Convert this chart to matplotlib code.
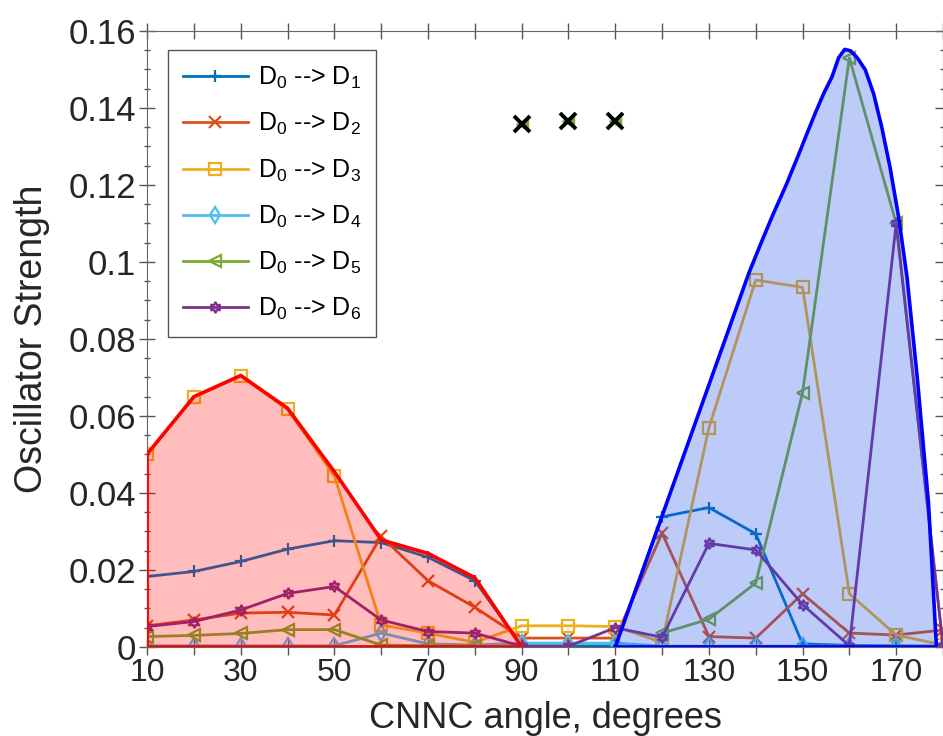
import numpy as np
import matplotlib.pyplot as plt
from matplotlib.ticker import MultipleLocator, FuncFormatter

plt.rcParams['font.family'] = ['Liberation Sans', 'DejaVu Sans']
plt.rcParams['mathtext.fontset'] = 'custom'
plt.rcParams['mathtext.rm'] = 'Liberation Sans'
plt.rcParams['mathtext.it'] = 'Liberation Sans'

# CNNC angle grid
ang = [10, 20, 30, 40, 50, 60, 70, 80, 90, 100, 110, 120, 130, 140, 150, 160, 170, 180]

d1 = [0.0183, 0.0196, 0.0222, 0.0254, 0.0276, 0.0271, 0.0233, 0.0172, 0.0003, 0.0003, 0.0003,
      0.0338, 0.0362, 0.0294, 0.0008, 0.0004, 0.0003, 0.0002]
d2 = [0.0055, 0.0070, 0.0088, 0.0090, 0.0083, 0.0287, 0.0172, 0.0103, 0.0023, 0.0023, 0.0023,
      0.0295, 0.0027, 0.0023, 0.0138, 0.0036, 0.0031, 0.0044]
d3 = [0.0500, 0.0650, 0.0704, 0.0617, 0.0444, 0.0057, 0.0036, 0.0012, 0.0055, 0.0055, 0.0053,
      0.0012, 0.0569, 0.0953, 0.0934, 0.0138, 0.0031, 0.0005]
d4 = [0.0003, 0.0003, 0.0003, 0.0003, 0.0003, 0.0036, 0.0008, 0.0005, 0.0010, 0.0010, 0.0010,
      0.0002, 0.0002, 0.0002, 0.0002, 0.0002, 0.0002, 0.0002]
d5 = [0.0027, 0.0030, 0.0035, 0.0045, 0.0045, 0.0005, 0.0003, 0.0003, np.nan, np.nan, np.nan,
      0.0036, 0.0072, 0.0166, 0.0660, 0.1530, 0.1100, 0.0003]
d6 = [0.0053, 0.0066, 0.0096, 0.0139, 0.0157, 0.0070, 0.0040, 0.0036, 0.0002, 0.0002, 0.0050,
      0.0025, 0.0269, 0.0252, 0.0110, 0.0003, 0.1100, 0.0003]

# stray points near the top (90-110 deg)
top_ang = [90, 100, 110]
top_val = [0.1358, 0.1366, 0.1366]

# envelope of the planar region (red)
red_ang = [10, 10, 20, 30, 40, 50, 60, 70, 80, 90, 10]
red_val = [0, 0.0501, 0.0650, 0.0705, 0.0620, 0.0455, 0.0278, 0.0243, 0.0180, 0, 0]

# envelope of the other region (blue)
blue_ang = [110, 138.5, 141, 143.5, 146.5, 149, 151, 152.7, 154.5, 156.3, 157.7, 159, 160.3,
            161.7, 163.4, 165.2, 166.9, 168.7, 170.5, 172.3, 174.5, 176.9, 178.6, 110]
blue_val = [0, 0.0970, 0.1045, 0.1118, 0.1200, 0.1274, 0.1335, 0.1386, 0.1437, 0.1481, 0.1530,
            0.1552, 0.1548, 0.1530, 0.1499, 0.1436, 0.1351, 0.1245, 0.1118, 0.0962, 0.0700,
            0.0374, 0, 0]

series = [d1, d2, d3, d4, d5, d6]
colors = ['#0072BD', '#D95319', '#EDB120', '#4DBEEE', '#77AC30', '#7E2F8E']
markers = ['+', 'x', 's', 'd', '<', (6, 1, 0)]
labels = ['D$_0$ --> D$_%d$' % i for i in range(1, 7)]

fig = plt.figure(figsize=(9.43, 7.36), dpi=100)
ax = fig.add_axes([0.156, 0.121, 0.844, 0.837])

for y, c, m, lab in zip(series, colors, markers, labels):
    ax.plot(ang, y, color=c, marker=m, markersize=8, mfc='none', mew=1.6, lw=2, label=lab)

ax.plot(top_ang, top_val, ls='none', marker='<', color='#77AC30', markersize=8)
ax.plot(top_ang, top_val, ls='none', marker='x', color='k', markersize=11, mew=2.8)

ax.fill(red_ang, red_val, facecolor='r', alpha=0.26, edgecolor='none', zorder=5)
ax.plot(red_ang, red_val, color='r', lw=2.6, zorder=6)
ax.fill(blue_ang, blue_val, facecolor=(0.15, 0.33, 0.93), alpha=0.3, edgecolor='none', zorder=5)
ax.plot(blue_ang, blue_val, color='b', lw=2.6, zorder=6, solid_joinstyle='round')

ax.set_xlim(10, 180)
ax.set_ylim(0, 0.16)
ax.set_xticks(range(10, 181, 10))
ax.set_xticklabels([str(a) if a % 20 == 10 else '' for a in range(10, 181, 10)])
ax.yaxis.set_major_locator(MultipleLocator(0.02))
ax.yaxis.set_minor_locator(MultipleLocator(0.005))
ax.yaxis.set_major_formatter(FuncFormatter(lambda v, p: '%g' % round(v, 3)))
ax.tick_params(axis='both', which='both', direction='inout', top=True, right=True,
               color='#555555', labelcolor='#262626')
ax.tick_params(which='major', length=12, width=1)
ax.tick_params(which='minor', length=5, width=1)
ax.tick_params(axis='x', labelsize=23, pad=2)
ax.tick_params(axis='y', labelsize=25, pad=2)
for s in ax.spines.values():
    s.set_color('#666666')

ax.set_xlabel('CNNC angle, degrees', fontsize=26, color='#262626', labelpad=9)
ax.set_ylabel('Oscillator Strength', fontsize=27, color='#262626', labelpad=13)

leg = ax.legend(loc='upper left', bbox_to_anchor=(0.026, 0.969), borderaxespad=0, fontsize=18,
                fancybox=False, edgecolor='#555555', framealpha=1, handlelength=2.6,
                labelspacing=0.8, borderpad=0.6, handletextpad=0.4)
leg.get_frame().set_linewidth(1)
leg.set_zorder(10)

fig.savefig('out.png', dpi=100)
